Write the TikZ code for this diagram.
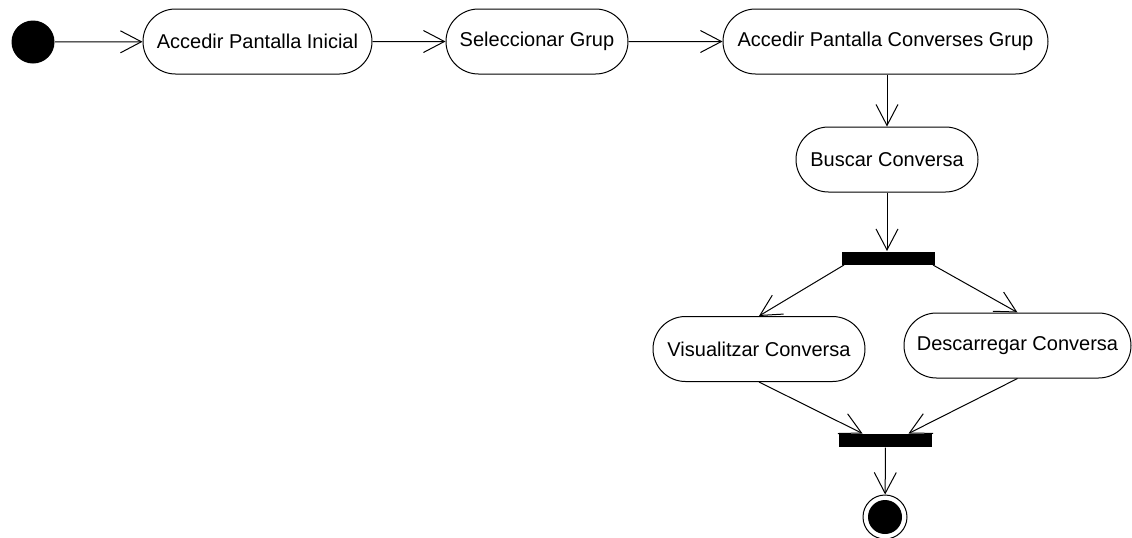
\documentclass[tikz,border=0pt]{standalone}
\usepackage{fontspec}
\setmainfont{Liberation Sans}
\usetikzlibrary{arrows.meta,shapes.misc}

\begin{document}
\begin{tikzpicture}[x=0.5pt,y=-0.5pt,line width=0.5pt,
    act/.style={draw,rounded rectangle,minimum height=32.5pt,inner sep=0pt,
      font=\fontsize{10}{12}\selectfont},
    bar/.style={fill,inner sep=0pt,minimum width=46.5pt,minimum height=6.5pt},
    flow/.style={-{Straight Barb[length=10.5pt,width=11pt]}}]
  \useasboundingbox (0,0) rectangle (1132,537);
  \node[circle,fill,minimum size=21.5pt,inner sep=0pt] (start) at (33,42) {};
  \node[act,minimum width=114.5pt] (inicial) at (257.5,41.5) {Accedir Pantalla Inicial};
  \node[act,minimum width=91pt] (grup) at (537,41.5) {Seleccionar Grup};
  \node[act,minimum width=162.5pt] (converses) at (885.5,41.5) {Accedir Pantalla Converses Grup};
  \node[act,minimum width=91pt] (buscar) at (887,159.5) {Buscar Conversa};
  \node[bar] (fork) at (888,258) {};
  \node[act,minimum width=106pt] (visual) at (759,349) {Visualitzar Conversa};
  \node[act,minimum width=113.5pt] (descarrega) at (1017.5,345.5) {Descarregar Conversa};
  \node[bar] (join) at (885.5,440.5) {};
  \node[circle,draw,fill=white,minimum size=22pt,inner sep=0pt] (end) at (885,517) {};
  \fill (end.center) circle[radius=8.5pt];
  \draw[flow] (start) -- (inicial);
  \draw[flow] (inicial) -- (grup);
  \draw[flow] (grup) -- (converses);
  \draw[flow] (buscar.north |- converses.south) -- (buscar.north);
  \draw[flow] (buscar.south) -- (fork.north -| buscar.south);
  \draw[flow] ([xshift=1.5pt]fork.south west) -- (visual.north);
  \draw[flow] ([xshift=-1pt]fork.south east) -- (descarrega.north);
  \draw[flow] (visual.south) -- ([xshift=-11.5pt]join.north);
  \draw[flow] (descarrega.south) -- ([xshift=11.5pt]join.north);
  \draw[flow] (join) -- (end);
\end{tikzpicture}
\end{document}
